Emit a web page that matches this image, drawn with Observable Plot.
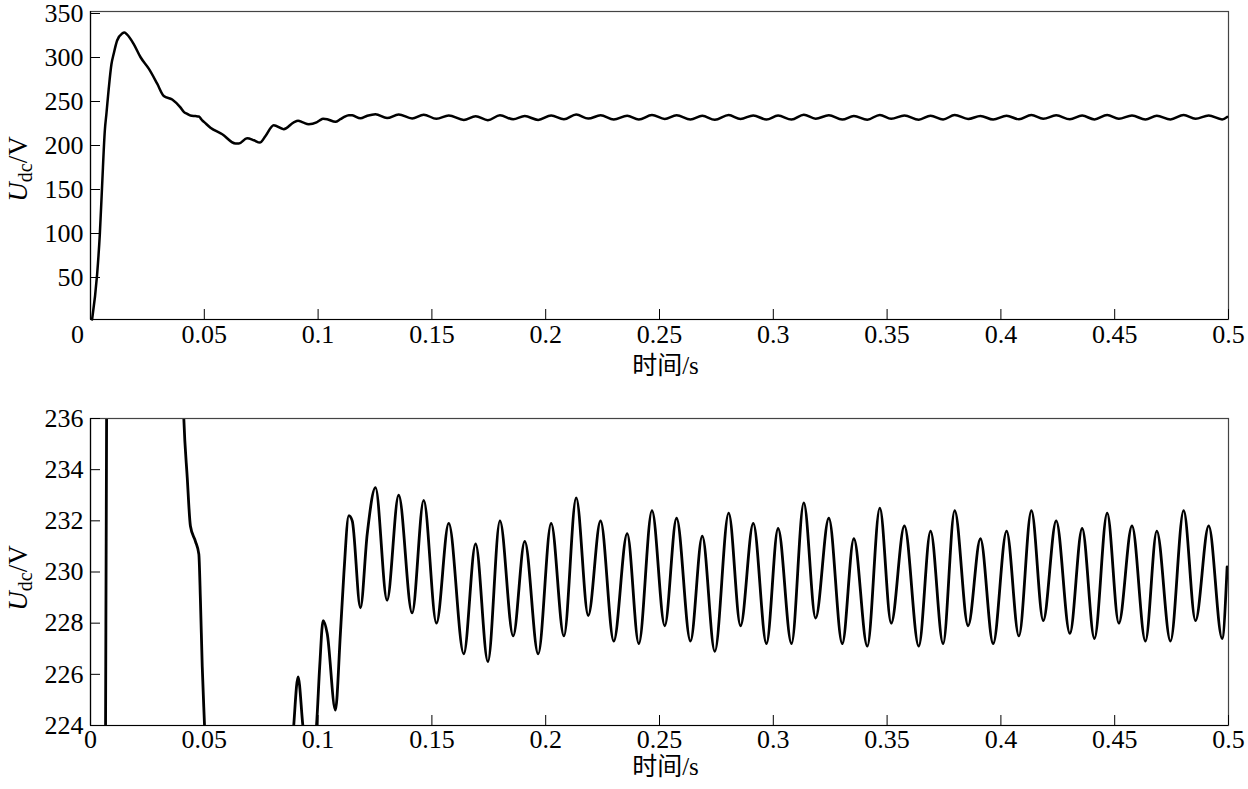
<!DOCTYPE html>
<html>
<head>
<meta charset="utf-8">
<script src="https://cdn.jsdelivr.net/npm/d3@7"></script>
<script src="https://cdn.jsdelivr.net/npm/@observablehq/plot@0.6"></script>
<style>
  html, body { margin: 0; padding: 0; background: #fff; }
  svg { display: block; }
</style>
</head>
<body>
<div id="chart"></div>
<script>
// time (s) and DC-link voltage (V)
const time = [
  0.0007, 0.0029, 0.0041, 0.0051, 0.0063, 0.0070, 0.0080, 0.0092, 0.0102, 0.0117,
  0.0139, 0.0150, 0.0160, 0.0190, 0.0220, 0.0256, 0.0293, 0.0322, 0.0359, 0.0395,
  0.0410, 0.0425, 0.0439, 0.0461, 0.0476, 0.0483, 0.0491, 0.0501, 0.0527, 0.0579,
  0.0637, 0.0652, 0.0688, 0.0718, 0.0744, 0.0769, 0.0805, 0.0849, 0.0893, 0.0912,
  0.0933, 0.0959, 0.0993, 0.1007, 0.1022, 0.1040, 0.1076, 0.1098, 0.1113, 0.1135,
  0.1150, 0.1186, 0.1216, 0.1252, 0.1303, 0.1354, 0.1413, 0.1464, 0.1520, 0.1574,
  0.1640, 0.1692, 0.1746, 0.1799, 0.1857, 0.1908, 0.1967, 0.2024, 0.2080, 0.2134,
  0.2187, 0.2241, 0.2299, 0.2358, 0.2409, 0.2467, 0.2523, 0.2575, 0.2636, 0.2688,
  0.2743, 0.2804, 0.2856, 0.2912, 0.2970, 0.3021, 0.3080, 0.3134, 0.3186, 0.3244,
  0.3303, 0.3354, 0.3413, 0.3468, 0.3518, 0.3576, 0.3639, 0.3691, 0.3746, 0.3797,
  0.3856, 0.3910, 0.3966, 0.4025, 0.4079, 0.4134, 0.4186, 0.4243, 0.4303, 0.4357,
  0.4411, 0.4467, 0.4518, 0.4576, 0.4635, 0.4685, 0.4745, 0.4803, 0.4855, 0.4913,
  0.4972, 0.4994
];
const udc = [
  0, 51, 97, 152, 215, 234, 262, 290, 302, 317,
  325, 326, 324, 313, 298, 285, 268, 254, 250, 241,
  236, 233.7, 231.8, 231.2, 230.7, 228.9, 226.3, 224, 218, 210.5,
  200, 200, 206, 203.7, 201, 208.6, 220.8, 216.3, 224, 225.9,
  224, 222, 224, 226.3, 228.1, 227.6, 224.6, 227.6, 229.9, 232.2,
  232.0, 228.6, 231.5, 233.3, 228.9, 233.0, 228.4, 232.8, 228.0, 231.9,
  226.8, 231.1, 226.5, 232.0, 227.5, 231.2, 226.8, 231.9, 227.5, 232.9,
  228.3, 232.0, 227.3, 231.5, 227.2, 232.4, 227.9, 232.1, 227.3, 231.4,
  226.9, 232.3, 227.9, 231.9, 227.2, 231.7, 227.2, 232.7, 228.2, 232.1,
  227.2, 231.3, 227.1, 232.5, 228.0, 231.8, 227.1, 231.6, 227.2, 232.4,
  227.9, 231.3, 227.2, 231.6, 227.5, 232.4, 228.1, 232.0, 227.6, 231.7,
  227.4, 232.3, 228.0, 231.8, 227.3, 231.6, 227.3, 232.4, 228.1, 231.8,
  227.4, 230.2
];
const xTicks = [0, 0.05, 0.1, 0.15, 0.2, 0.25, 0.3, 0.35, 0.4, 0.45, 0.5];
const topYTicks = [50, 100, 150, 200, 250, 300, 350];
const bottomYTicks = [224, 226, 228, 230, 232, 234, 236];
const topYDomain = [0, 350];
const bottomYDomain = [224, 236];
const xTitle = "时间/s";

const data = time.map((t, i) => ({t, v: udc[i]}));
const FONT = "'Liberation Serif', 'Times New Roman', serif";
const CJK = "'Liberation Serif', 'Noto Sans CJK SC', serif";
const fmt = d => String(d);

function yLabel(svg, cy) {
  const t = d3.select(svg).append("text")
    .attr("transform", `translate(27,${cy}) rotate(-90)`)
    .attr("text-anchor", "middle")
    .style("font-family", FONT)
    .style("font-size", "27px")
    .attr("fill", "black");
  t.append("tspan").style("font-style", "italic").text("U");
  t.append("tspan").style("font-size", "20px").attr("dy", 5).text("dc");
  t.append("tspan").attr("dy", -5).text("/V");
}

function serifText(svg) {
  d3.select(svg).selectAll("text").each(function() {
    const isCJK = /[\u4e00-\u9fff]/.test(this.textContent);
    d3.select(this).style("font-family", isCJK ? CJK : FONT);
  });
}

const common = {
  width: 1248,
  marginLeft: 90,
  marginRight: 20,
  style: {fontFamily: FONT, fontSize: "26px", color: "black", background: "white"},
  x: {domain: [0, 0.5]}
};

const topChart = Plot.plot({
  ...common,
  height: 400,
  marginTop: 11,
  marginBottom: 81,
  y: {domain: topYDomain},
  marks: [
    Plot.frame({stroke: "#444", strokeWidth: 1.2}),
    Plot.ruleX([0], {stroke: "black", strokeWidth: 1.2}),
    Plot.ruleY([topYDomain[0]], {stroke: "black", strokeWidth: 1.2}),
    Plot.axisY(topYTicks, {tickSize: -10, tickPadding: 17, dy: 2, tickFormat: fmt, label: null, fontSize: 26}),
    Plot.axisX(xTicks.filter(d => d > 0), {tickSize: -10, tickPadding: 15, tickFormat: fmt, label: null, fontSize: 26}),
    Plot.axisX([0], {tickSize: 0, tickPadding: 5, dx: -13, tickFormat: fmt, label: null, fontSize: 26}),
    Plot.line(data, {x: "t", y: "v", stroke: "black", strokeWidth: 2.5, curve: "monotone-x"}),
    Plot.text([xTitle], {frameAnchor: "bottom", dy: 54, dx: 6, fontSize: 25, fill: "black"})
  ]
});
serifText(topChart);
yLabel(topChart, 169);

const bottomChart = Plot.plot({
  ...common,
  height: 389,
  marginTop: 18,
  marginBottom: 64,
  y: {domain: bottomYDomain},
  marks: [
    Plot.line(data, {x: "t", y: "v", stroke: "black", strokeWidth: 2.8, curve: "monotone-x", clip: true}),
    Plot.frame({stroke: "#444", strokeWidth: 1.2}),
    Plot.ruleX([0], {stroke: "black", strokeWidth: 1.2}),
    Plot.ruleY([bottomYDomain[0]], {stroke: "black", strokeWidth: 1.2}),
    Plot.axisY(bottomYTicks, {tickSize: -10, tickPadding: 17, tickFormat: fmt, label: null, fontSize: 26}),
    Plot.axisX(xTicks, {tickSize: -10, tickPadding: 14, tickFormat: fmt, label: null, fontSize: 26}),
    Plot.text([xTitle], {frameAnchor: "bottom", dy: 49, dx: 6, fontSize: 25, fill: "black"})
  ]
});
serifText(bottomChart);
yLabel(bottomChart, 178);

document.getElementById("chart").append(topChart, bottomChart);
</script>
</body>
</html>
